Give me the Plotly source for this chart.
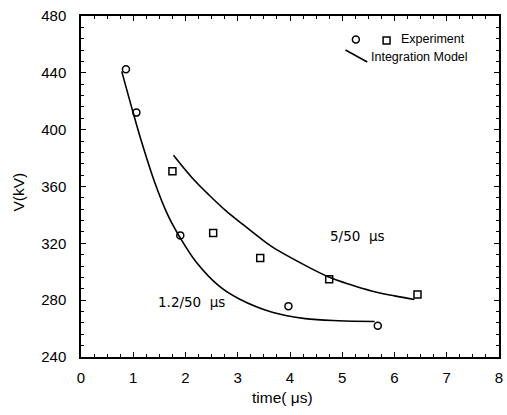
import plotly.graph_objects as go

# Breakdown voltage vs time to breakdown
exp_12_t = [0.86, 1.06, 1.90, 3.97, 5.68]
exp_12_v = [442.6, 412.0, 325.6, 275.8, 262.0]

exp_5_t = [1.75, 2.53, 3.43, 4.75, 6.44]
exp_5_v = [370.8, 327.3, 309.6, 294.8, 284.0]

model_12_t = [0.78, 0.99, 1.18, 1.41, 1.66, 1.88, 2.20, 2.64, 3.02, 3.66, 4.29, 4.92, 5.62]
model_12_v = [441, 413, 389, 363, 340, 325, 307, 290, 281, 271.5, 267, 265.5, 265]

model_5_t = [1.77, 2.13, 2.45, 2.77, 3.09, 3.40, 3.66, 4.29, 4.73, 5.15, 5.56, 6.00, 6.38]
model_5_v = [382, 366, 354, 343, 333.5, 324.5, 317.5, 304.5, 296.5, 291, 286.5, 283, 280.5]

x_ticks = [0, 1, 2, 3, 4, 5, 6, 7, 8]
y_ticks = [240, 280, 320, 360, 400, 440, 480]

FONT = "Liberation Sans, Arial, sans-serif"
LABEL_FONT = "DejaVu Sans, Verdana, sans-serif"

fig = go.Figure()

line_style = dict(color="black", width=1.6, shape="spline", smoothing=1.0)
fig.add_trace(go.Scatter(x=model_12_t, y=model_12_v, mode="lines", line=line_style))
fig.add_trace(go.Scatter(x=model_5_t, y=model_5_v, mode="lines", line=line_style))

fig.add_trace(go.Scatter(
    x=exp_12_t, y=exp_12_v, mode="markers",
    marker=dict(symbol="circle-open", size=7, color="black", line=dict(width=1.5)),
))
fig.add_trace(go.Scatter(
    x=exp_5_t, y=exp_5_v, mode="markers",
    marker=dict(symbol="square-open", size=7, color="black", line=dict(width=1.5)),
))

# plot-area pixel geometry used for the hand-drawn key and axis titles
L, R, T, B = 81, 503, 16, 357
W, H = R - L, B - T


def px(xp):
    return (xp - L) / W


def py(yp):
    return (B - yp) / H


shapes = [
    dict(type="circle", xref="paper", yref="paper",
         x0=px(355), x1=px(362), y0=py(43), y1=py(36),
         line=dict(color="black", width=1.5)),
    dict(type="rect", xref="paper", yref="paper",
         x0=px(386), x1=px(393), y0=py(44), y1=py(37),
         line=dict(color="black", width=1.5)),
    dict(type="line", xref="paper", yref="paper",
         x0=px(348), x1=px(370), y0=py(50), y1=py(62),
         line=dict(color="black", width=1.6)),
]

annotations = [
    dict(text="Experiment", xref="paper", yref="paper", x=px(402), y=py(39),
         xanchor="left", yanchor="middle", showarrow=False,
         font=dict(family=FONT, size=12.5, color="black")),
    dict(text="Integration Model", xref="paper", yref="paper", x=px(372), y=py(57),
         xanchor="left", yanchor="middle", showarrow=False,
         font=dict(family=FONT, size=12.5, color="black")),
    dict(text="1.2/50  μs", x=2.12, y=279, showarrow=False,
         font=dict(family=LABEL_FONT, size=13.5, color="black")),
    dict(text="5/50  μs", x=5.29, y=325, showarrow=False,
         font=dict(family=LABEL_FONT, size=13.5, color="black")),
    dict(text="time( μs)", xref="paper", yref="paper", x=px(284), y=py(398),
         xanchor="center", yanchor="middle", showarrow=False,
         font=dict(family=FONT, size=15.5, color="black")),
    dict(text="V(kV)", xref="paper", yref="paper", x=px(17), y=py(192),
         xanchor="center", yanchor="middle", textangle=-90, showarrow=False,
         font=dict(family=FONT, size=15.5, color="black")),
]

axis_common = dict(
    showline=True, linecolor="black", linewidth=1.5, mirror="allticks",
    ticks="inside", ticklen=5, tickwidth=1.3, tickcolor="black",
    showgrid=False, zeroline=False,
    tickfont=dict(family=FONT, size=15, color="black"),
)

fig.update_xaxes(
    range=[0, 8], tickvals=x_ticks, ticktext=[str(v) for v in x_ticks],
    minor=dict(ticks="inside", ticklen=3, dtick=0.25, tickcolor="black", tickwidth=1.2),
    ticklabelstandoff=6,
    **axis_common,
)
fig.update_yaxes(
    range=[240, 480], tickvals=y_ticks, ticktext=[str(v) for v in y_ticks],
    minor=dict(ticks="inside", ticklen=3, dtick=8, tickcolor="black", tickwidth=1.2),
    ticklabelstandoff=10,
    **axis_common,
)

fig.update_layout(
    width=507, height=415,
    margin=dict(l=L, r=507 - R, t=T, b=415 - B),
    paper_bgcolor="white", plot_bgcolor="white",
    showlegend=False,
    shapes=shapes, annotations=annotations,
)

fig.write_html("out.html")
